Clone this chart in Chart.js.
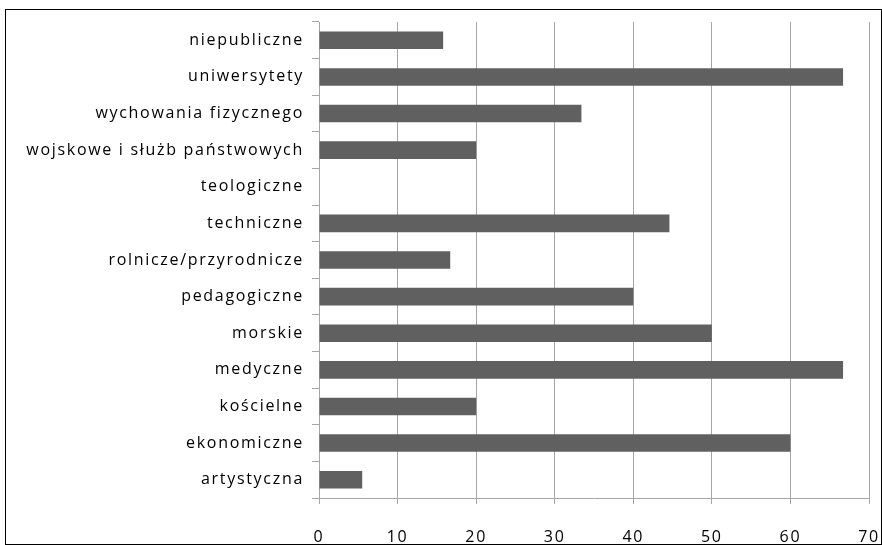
<!DOCTYPE html>
<html>
<head>
<meta charset="utf-8">
<script src="https://cdn.jsdelivr.net/npm/chart.js@4"></script>
<style>
  body { margin: 0; background: #fff; }
  #wrap { width: 882px; height: 545px; position: relative; }
</style>
</head>
<body>
<div id="wrap"><canvas id="chart" width="882" height="545"></canvas></div>
<script>
const categories = [
  "niepubliczne",
  "uniwersytety",
  "wychowania fizycznego",
  "wojskowe i służb państwowych",
  "teologiczne",
  "techniczne",
  "rolnicze/przyrodnicze",
  "pedagogiczne",
  "morskie",
  "medyczne",
  "kościelne",
  "ekonomiczne",
  "artystyczna",
];
const values = [15.8, 66.7, 33.4, 20, 0, 44.6, 16.7, 40, 50, 66.7, 20, 60, 5.5];
const xTicks = [0, 10, 20, 30, 40, 50, 60, 70];

const gridColor = "#a6a6a6";
const spacing = "1.7px";

const frame = {
  id: "frame",
  beforeLayout(chart) {
    chart.ctx.letterSpacing = spacing;
  },
  beforeDraw(chart) {
    const ctx = chart.ctx;
    ctx.letterSpacing = spacing;
    ctx.save();
    ctx.fillStyle = "#fff";
    ctx.fillRect(0, 0, chart.width, chart.height);
    ctx.strokeStyle = "#000";
    ctx.lineWidth = 1;
    ctx.strokeRect(5.5, 9.5, 876, 535);
    ctx.restore();
  },
};

const chart = new Chart(document.getElementById("chart"), {
  type: "bar",
  data: {
    labels: categories,
    datasets: [
      {
        data: values,
        backgroundColor: "#606060",
        barPercentage: 0.48,
        categoryPercentage: 1,
      },
    ],
  },
  options: {
    indexAxis: "y",
    responsive: false,
    animation: false,
    layout: { padding: { top: 22, right: 13, left: 0, bottom: 0 } },
    plugins: {
      legend: { display: false },
      tooltip: { enabled: false },
    },
    scales: {
      x: {
        min: 0,
        max: 70,
        afterBuildTicks(scale) {
          scale.ticks = xTicks.map((v) => ({ value: v }));
        },
        afterFit(scale) {
          scale.height = 47;
          scale.paddingLeft = 0;
          scale.paddingRight = 0;
        },
        grid: {
          color: gridColor,
          tickLength: 6,
        },
        border: { color: gridColor },
        ticks: {
          color: "#000",
          padding: 24,
          font: { family: "Open Sans", size: 16 },
        },
      },
      y: {
        afterFit(scale) {
          scale.width = 319;
          scale.paddingTop = 0;
          scale.paddingBottom = 0;
        },
        grid: {
          offset: true,
          drawOnChartArea: false,
          color: gridColor,
          tickLength: 7,
        },
        border: { color: gridColor },
        ticks: {
          color: "#000",
          padding: 8,
          font: { family: "Open Sans", size: 16 },
        },
      },
    },
  },
  plugins: [frame],
});
</script>
</body>
</html>
